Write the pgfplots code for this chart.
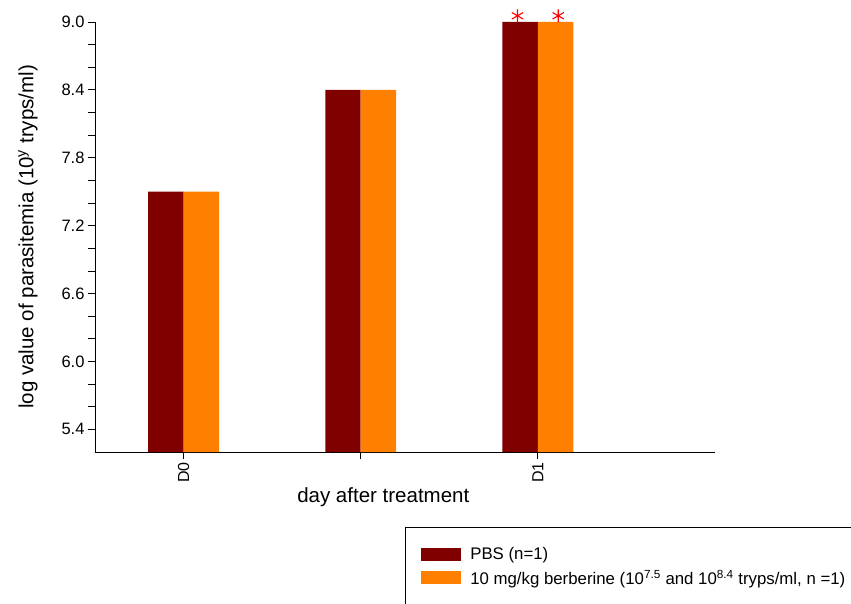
\documentclass[border=0pt]{standalone}
\usepackage{pgfplots}
\pgfplotsset{compat=1.18}
\usepackage{fontspec}
\setmainfont{Liberation Sans}
\definecolor{pbs}{HTML}{800000}
\definecolor{berb}{HTML}{FF8000}
\begin{document}
\begin{tikzpicture}[x=1pt,y=1pt]
\clip (0,0) rectangle (851,603);
\begin{axis}[
  scale only axis,
  width=620pt, height=430pt,
  at={(95pt,151pt)}, anchor=south west,
  xmin=-0.5, xmax=3.0,
  ymin=5.2, ymax=9.0,
  axis x line=bottom, axis y line=left,
  axis line style={-, line width=0.8pt},
  xtick={0,1,2}, xticklabels={D0,,D1},
  xticklabel style={rotate=90, anchor=east, font=\fontsize{16}{18}\selectfont},
  ytick={5.4,6.0,6.6,7.2,7.8,8.4,9.0},
  minor ytick={5.6,5.8,6.2,6.4,6.8,7.0,7.4,7.6,8.0,8.2,8.6,8.8},
  yticklabel style={/pgf/number format/.cd, fixed, fixed zerofill, precision=1, /tikz/.cd, font=\fontsize{16.5}{18}\selectfont},
  /pgf/number format/assume math mode=true,
  tick align=outside,
  major tick length=7pt, minor tick length=7pt,
  tick style={black, line width=0.8pt},
  xlabel={day after treatment},
  xlabel style={at={(axis description cs:0.465,-0.105)}, anchor=center, font=\fontsize{20.5}{22}\selectfont},
  ylabel={log value of parasitemia (10\textsuperscript{y} tryps/ml)},
  ylabel style={at={(axis description cs:-0.108,0.5)}, anchor=center, rotate=0, font=\fontsize{20.5}{22}\selectfont},
  legend style={at={(axis description cs:0.5,-0.1744)}, anchor=north west,
    draw=black, line width=0.6pt, inner xsep=16pt, inner ysep=18pt,
    font=\fontsize{16.8}{18}\selectfont, row sep=5pt, cells={anchor=west}},
  legend image code/.code={\fill[#1, draw=none] (0pt,-6.5pt) rectangle (40pt,6.5pt); \path (47pt,0pt);},
  clip=false,
]
\addplot[fill=pbs, draw=none, ybar, bar width=0.2, bar shift=-0.1]
  coordinates {(0,7.5) (1,8.4) (2,9.0)};
\addlegendentry{PBS (n=1)}
\addplot[fill=berb, draw=none, ybar, bar width=0.2, bar shift=0.1]
  coordinates {(0,7.5) (1,8.4) (2,9.0)};
\addlegendentry{10 mg/kg berberine (10\textsuperscript{7.5} and 10\textsuperscript{8.4} tryps/ml, n =1)}
% significance markers above the D1 bars
\addplot[only marks, mark=asterisk, mark size=6.5pt, red, mark options={line width=1.1pt}, forget plot]
  coordinates {(1.885,9.055) (2.115,9.055)};
\end{axis}
\end{tikzpicture}
\end{document}
